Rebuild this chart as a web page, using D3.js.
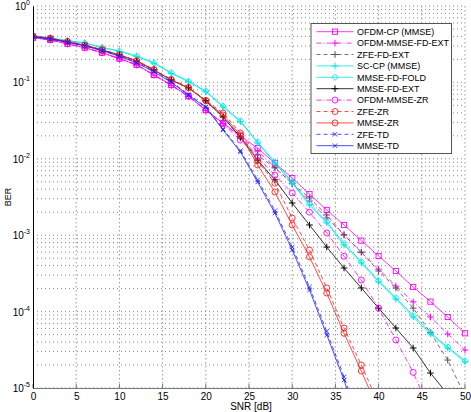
<!DOCTYPE html>
<html><head><meta charset="utf-8">
<script src="https://cdn.jsdelivr.net/npm/d3@7"></script>
<style>body{margin:0;background:#fff} text{font-family:"Liberation Sans",Arial,sans-serif}</style>
</head><body><svg id="c" width="471" height="412"></svg>
<script>
// ---- data ----
const snr = d3.range(0, 51, 2);
const xTicks = [0,5,10,15,20,25,30,35,40,45,50];
const yTicks = [1e-5,1e-4,1e-3,1e-2,1e-1,1];
const yTickExp = ["-5","-4","-3","-2","-1","0"];
const seriesNames = ["OFDM-CP (MMSE)","OFDM-MMSE-FD-EXT","ZFE-FD-EXT","SC-CP (MMSE)","MMSE-FD-FOLD","MMSE-FD-EXT","OFDM-MMSE-ZR","ZFE-ZR","MMSE-ZR","ZFE-TD","MMSE-TD"];
const ofdmCp     = [0.385,0.36,0.32,0.285,0.245,0.205,0.17,0.125,0.0925,0.066,0.0435,0.0294,0.0199,0.0138,8.8e-3,5.6e-3,3.46e-3,2.14e-3,1.36e-3,8.5e-4,5.34e-4,3.4e-4,2.1e-4,1.35e-4,8.5e-5,5.2e-5];
const ofdmFdExt  = [0.383,0.358,0.318,0.283,0.243,0.203,0.168,0.124,0.091,0.065,0.043,0.029,0.0193,0.0126,7.8e-3,4.7e-3,2.8e-3,1.68e-3,1.01e-3,6.0e-4,3.6e-4,2.16e-4,1.34e-4,8.5e-5,5.1e-5,3.14e-5];
const zfeFdExt   = [0.40,0.376,0.342,0.307,0.267,0.23,0.192,0.147,0.109,0.086,0.058,0.036,0.0187,0.0112,7.6e-3,4.8e-3,3.07e-3,1.84e-3,1.01e-3,6.0e-4,3.4e-4,2.04e-4,1.11e-4,5.3e-5,2.32e-5,7.9e-6];
const scCp       = [0.405,0.38,0.35,0.328,0.285,0.255,0.218,0.178,0.131,0.102,0.0755,0.0477,0.0306,0.0161,8.8e-3,4.8e-3,2.48e-3,1.45e-3,7.45e-4,4.33e-4,2.44e-4,1.46e-4,8.5e-5,5.1e-5,3.34e-5,2.19e-5];
const mmseFdFold = [0.408,0.383,0.353,0.33,0.288,0.258,0.222,0.181,0.134,0.104,0.077,0.049,0.0315,0.0166,9.1e-3,5.0e-3,2.6e-3,1.5e-3,7.8e-4,4.5e-4,2.55e-4,1.52e-4,8.9e-5,5.3e-5,3.45e-5,2.27e-5];
const mmseFdExt  = [0.40,0.375,0.34,0.305,0.265,0.228,0.19,0.145,0.107,0.0845,0.0571,0.0352,0.0193,9.6e-3,5.3e-3,2.64e-3,1.36e-3,7.0e-4,3.72e-4,2.04e-4,1.11e-4,6.1e-5,3.34e-5,1.57e-5,8.3e-6,null];
const ofdmZr     = [0.386,0.361,0.321,0.286,0.246,0.206,0.171,0.126,0.093,0.066,0.0435,0.0285,0.0176,0.0106,6.1e-3,3.57e-3,2.0e-3,1.07e-3,5.3e-4,2.59e-4,1.11e-4,4.25e-5,1.6e-5,4.9e-6,null,null];
const zfeZr      = [0.405,0.378,0.343,0.308,0.268,0.23,0.192,0.147,0.109,0.086,0.058,0.0397,0.0218,9.4e-3,4.8e-3,1.68e-3,6.4e-4,2.04e-4,6.1e-5,2.0e-5,6.3e-6,null,null,null,null,null];
const mmseZr     = [0.404,0.377,0.342,0.307,0.267,0.229,0.191,0.146,0.108,0.085,0.0575,0.0374,0.0205,8.3e-3,3.67e-3,1.36e-3,5.2e-4,1.75e-4,5.2e-5,1.67e-5,5e-6,null,null,null,null,null];
const zfeTd      = [0.396,0.371,0.336,0.301,0.261,0.222,0.182,0.14,0.102,0.07,0.048,0.0245,0.0128,5.3e-3,2.1e-3,7.0e-4,2.1e-4,5.5e-5,1.4e-5,3e-6,null,null,null,null,null,null];
const mmseTd     = [0.395,0.37,0.335,0.30,0.26,0.22,0.18,0.138,0.10,0.068,0.047,0.0238,0.0123,4.97e-3,1.95e-3,6.4e-4,1.92e-4,4.94e-5,1.27e-5,2.5e-6,null,null,null,null,null,null];
const seriesValues = [ofdmCp,ofdmFdExt,zfeFdExt,scCp,mmseFdFold,mmseFdExt,ofdmZr,zfeZr,mmseZr,zfeTd,mmseTd];

// ---- styles ----
const styles = [
  {c:"#ff00ff", d:null,        m:"square"},
  {c:"#ff00ff", d:"5,2,1,2",   m:"plus"},
  {c:"#505050", d:"4,3",       m:"plus"},
  {c:"#00e8e8", d:null,        m:"plus"},
  {c:"#00e8e8", d:null,        m:"diamond"},
  {c:"#000000", d:null,        m:"plus"},
  {c:"#ff00ff", d:"5,2,1,2",   m:"circle"},
  {c:"#ff2020", d:"4,3",       m:"circle"},
  {c:"#ff2020", d:null,        m:"circle"},
  {c:"#2020ff", d:"4,3",       m:"x"},
  {c:"#2020ff", d:null,        m:"x"}
];

const svg = d3.select("#c");
const L = 33, R = 465, T = 6, B = 388;
const x = d3.scaleLinear().domain([0,50]).range([L,R]);
const y = d3.scaleLog().domain([1e-5,1]).range([B,T]);

// grid
const grid = svg.append("g");
const minor = [];
for (let e=-5;e<0;e++) for (let k=1;k<10;k++) minor.push(k*Math.pow(10,e));
minor.push(1);
grid.selectAll("line.h").data(minor).join("line")
  .attr("x1",L).attr("x2",R).attr("y1",d=>y(d)).attr("y2",d=>y(d))
  .attr("stroke","#8a8a8a").attr("stroke-width",1).attr("stroke-dasharray","1,3");
grid.selectAll("line.v").data(xTicks.slice(1)).join("line")
  .attr("x1",d=>x(d)).attr("x2",d=>x(d)).attr("y1",T).attr("y2",B)
  .attr("stroke","#999").attr("stroke-width",1).attr("stroke-dasharray","1.5,2.5");

// clip
svg.append("clipPath").attr("id","clip").append("rect")
  .attr("x",L).attr("y",T-4).attr("width",R-L+6).attr("height",B-T+4);

function marker(g, type, cx, cy, col){
  if (type==="square") g.append("rect").attr("x",cx-2.6).attr("y",cy-2.6).attr("width",5.2).attr("height",5.2).attr("fill","none").attr("stroke",col).attr("stroke-width",0.9);
  else if (type==="circle") g.append("circle").attr("cx",cx).attr("cy",cy).attr("r",3).attr("fill","none").attr("stroke",col).attr("stroke-width",0.9);
  else if (type==="plus") g.append("path").attr("d",`M${cx-3.3},${cy}H${cx+3.3}M${cx},${cy-3.3}V${cy+3.3}`).attr("stroke",col).attr("stroke-width",1);
  else if (type==="diamond") g.append("path").attr("d",`M${cx},${cy-3.1}L${cx+3.1},${cy}L${cx},${cy+3.1}L${cx-3.1},${cy}Z`).attr("fill","none").attr("stroke",col).attr("stroke-width",0.9);
  else if (type==="x") g.append("path").attr("d",`M${cx-2.2},${cy-2.2}L${cx+2.2},${cy+2.2}M${cx-2.2},${cy+2.2}L${cx+2.2},${cy-2.2}`).attr("stroke",col).attr("stroke-width",0.9);
}

const plot = svg.append("g").attr("clip-path","url(#clip)");
const line = d3.line().defined(d=>d[1]!=null).x(d=>x(d[0])).y(d=>y(d[1]));
seriesValues.forEach((vals,i)=>{
  const st = styles[i];
  const pts = snr.map((s,j)=>[s,vals[j]]);
  plot.append("path").attr("d",line(pts)).attr("fill","none")
    .attr("stroke",st.c).attr("stroke-width",0.8)
    .attr("stroke-dasharray",st.d);
  const mg = plot.append("g");
  pts.filter(p=>p[1]!=null).forEach(p=>marker(mg, st.m, x(p[0]), y(p[1]), st.c));
});

// axes
const xAxis = svg.append("g").attr("transform",`translate(0,${B})`)
  .call(d3.axisBottom(x).tickValues(xTicks).tickFormat(d3.format("d")).tickSize(0).tickPadding(5));
xAxis.select(".domain").attr("stroke","#777");
xAxis.selectAll("text").attr("font-size",10).attr("fill","#000");
svg.append("g").selectAll("line").data(xTicks).join("line")
  .attr("x1",d=>x(d)).attr("x2",d=>x(d)).attr("y1",B).attr("y2",B-4).attr("stroke","#777");

const yAxis = svg.append("g").attr("transform",`translate(${L},0)`)
  .call(d3.axisLeft(y).tickValues(yTicks).tickFormat(()=>"").tickSize(0));
yAxis.select(".domain").attr("stroke","#000");
const yl = svg.append("g");
yTicks.forEach((t,i)=>{
  const tx = yl.append("text").attr("x",30).attr("y",y(t)+4).attr("text-anchor","end").attr("font-size",10);
  tx.append("tspan").text("10");
  tx.append("tspan").attr("dy",-5).attr("font-size",7).text(yTickExp[i]);
});

svg.append("text").attr("transform",`translate(11,197) rotate(-90)`).attr("text-anchor","middle")
  .attr("font-size",9).text("BER");
svg.append("text").attr("x",251).attr("y",410).attr("text-anchor","middle").attr("font-size",10).text("SNR [dB]");

// legend
const lg = svg.append("g");
lg.append("rect").attr("x",311).attr("y",23.5).attr("width",140.5).attr("height",130)
  .attr("fill","#fff").attr("stroke","#555").attr("stroke-width",1);
seriesNames.forEach((n,i)=>{
  const st = styles[i];
  const yy = 31.7 + i*11.4;
  lg.append("line").attr("x1",316.5).attr("x2",353.5).attr("y1",yy).attr("y2",yy)
    .attr("stroke",st.c).attr("stroke-width",0.8).attr("stroke-dasharray",st.d);
  marker(lg, st.m, 335, yy, st.c);
  lg.append("text").attr("x",357).attr("y",yy+3.3).attr("font-size",9).text(n);
});
</script></body></html>
